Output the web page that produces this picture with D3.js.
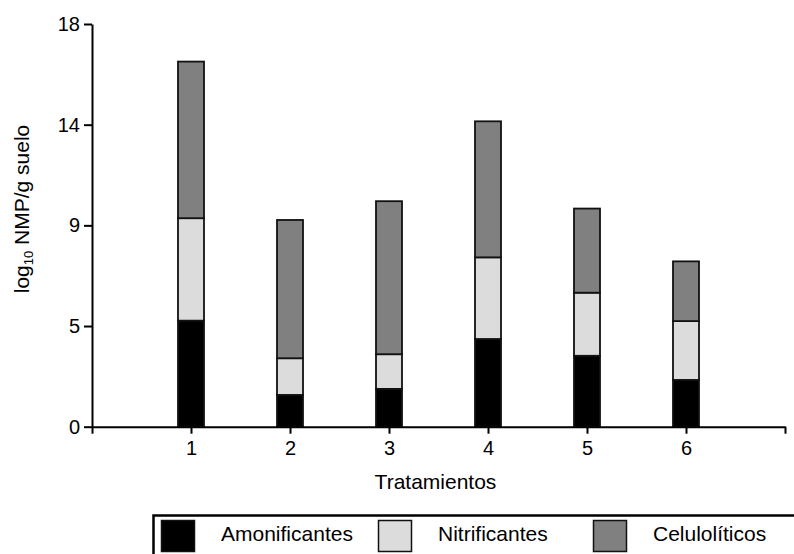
<!DOCTYPE html>
<html>
<head>
<meta charset="utf-8">
<script src="https://cdn.jsdelivr.net/npm/d3@7"></script>
<style>
  html, body { margin: 0; padding: 0; background: #fff; }
  svg { display: block; font-family: Arial, "Liberation Sans", sans-serif; }
</style>
</head>
<body>
<svg id="chart" width="794" height="554"></svg>
<script>
// Treatments and stacked log10 counts per microbial group
const tratamientos = [1, 2, 3, 4, 5, 6];
const amonificantes = [4.74, 1.42, 1.69, 3.92, 3.17, 2.09];
const nitrificantes = [4.58, 1.64, 1.55, 3.65, 2.82, 2.63];
const celuloliticos = [7.00, 6.18, 6.84, 6.08, 3.76, 2.67];

const seriesNames = ["Amonificantes", "Nitrificantes", "Celulolíticos"];
const seriesColors = ["#000000", "#dcdcdc", "#808080"];

// Y ticks sit at quarter steps of the range; labels are rounded
const yTickValues = [0, 4.5, 9, 13.5, 18];
const yTickLabels = ["0", "5", "9", "14", "18"];

const svg = d3.select("#chart");

const x = d3.scaleLinear().domain([0, 7]).range([92, 785]);
const y = d3.scaleLinear().domain([0, 18]).range([426.7, 24]);

const rows = tratamientos.map((t, i) => ({
  t,
  Amonificantes: amonificantes[i],
  Nitrificantes: nitrificantes[i],
  "Celulolíticos": celuloliticos[i]
}));
const stacked = d3.stack().keys(seriesNames)(rows);

const barW = 26;

// Stacked bars
svg.append("g").selectAll("g")
  .data(stacked)
  .join("g")
  .attr("fill", (d, i) => seriesColors[i])
  .selectAll("rect")
  .data(d => d)
  .join("rect")
  .attr("x", d => x(d.data.t) - barW / 2)
  .attr("y", d => y(d[1]))
  .attr("width", barW)
  .attr("height", d => y(d[0]) - y(d[1]))
  .attr("stroke", "#111")
  .attr("stroke-width", 1.8);

// Y axis
const yAxis = svg.append("g")
  .attr("transform", `translate(${x(0)},0)`)
  .call(d3.axisLeft(y)
    .tickValues(yTickValues)
    .tickFormat((d, i) => yTickLabels[i])
    .tickSize(8)
    .tickPadding(4)
    .tickSizeOuter(0));

// X axis
const xAxis = svg.append("g")
  .attr("transform", `translate(0,${y(0)})`)
  .call(d3.axisBottom(x)
    .tickValues([0, 1, 2, 3, 4, 5, 6, 7])
    .tickFormat(d => tratamientos.includes(d) ? String(d) : "")
    .tickSize(7)
    .tickPadding(7)
    .tickSizeOuter(0));

[yAxis, xAxis].forEach(g => {
  g.select(".domain").attr("stroke", "#000").attr("stroke-width", 2);
  g.selectAll(".tick line").attr("stroke", "#000").attr("stroke-width", 2);
  g.selectAll(".tick text")
    .attr("fill", "#000")
    .style("font-size", "20px")
    .style("font-family", "Arial, 'Liberation Sans', sans-serif");
});

// Axis titles
svg.append("text")
  .attr("x", (x(0) + x(7)) / 2 - 3)
  .attr("y", 489)
  .attr("text-anchor", "middle")
  .style("font-size", "21px")
  .text("Tratamientos");

const yTitle = svg.append("text")
  .attr("transform", "translate(28.5,209) rotate(-90)")
  .attr("text-anchor", "middle")
  .style("font-size", "21px");
yTitle.append("tspan").text("log");
yTitle.append("tspan").attr("dy", 4).style("font-size", "13px").text("10");
yTitle.append("tspan").attr("dy", -4).text(" NMP/g suelo");

// Legend
const legend = svg.append("g");
legend.append("rect")
  .attr("x", 153.5).attr("y", 515.5)
  .attr("width", 700).attr("height", 100)
  .attr("fill", "none")
  .attr("stroke", "#000")
  .attr("stroke-width", 2.5);

const legendSwatchX = d3.scaleOrdinal().domain(seriesNames).range([161, 378, 593]);
const legendItems = legend.selectAll("g.item")
  .data(seriesNames)
  .join("g")
  .attr("class", "item")
  .attr("transform", d => `translate(${legendSwatchX(d)},520)`);

legendItems.append("rect")
  .attr("x", 0.5).attr("y", 0.5)
  .attr("width", 33).attr("height", 31)
  .attr("fill", (d, i) => seriesColors[i])
  .attr("stroke", "#111")
  .attr("stroke-width", 1.5);

legendItems.append("text")
  .attr("x", 60)
  .attr("y", 21)
  .style("font-size", "21px")
  .text(d => d);
</script>
</body>
</html>
